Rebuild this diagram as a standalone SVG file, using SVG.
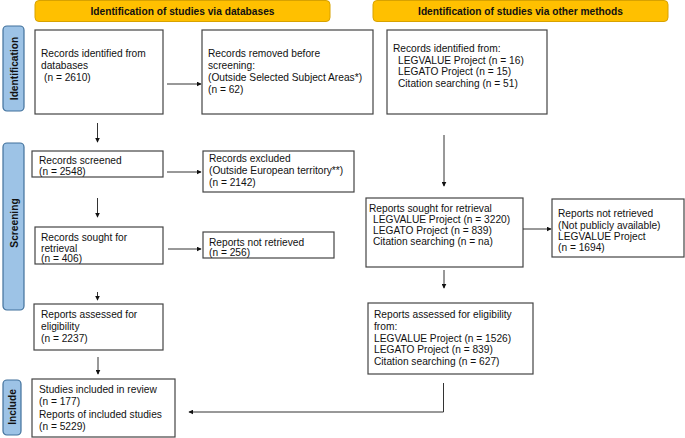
<svg xmlns="http://www.w3.org/2000/svg" width="685" height="438" viewBox="0 0 685 438">
<style>
text{font-family:"Liberation Sans",Arial,sans-serif;font-size:10.2px;fill:#111}
.h{font-weight:bold;text-anchor:middle}
.box{fill:#fff;stroke:#444;stroke-width:1.2}
.hdr{fill:#FFC000;stroke:#D8A200;stroke-width:1}
.side{fill:#9DC3E6;stroke:#41719C;stroke-width:1.2}
.ln{fill:none;stroke:#333;stroke-width:1}
</style>
<defs>
<marker id="ah" viewBox="0 0 8 8" refX="7" refY="4" markerWidth="5" markerHeight="5" orient="auto" markerUnits="userSpaceOnUse">
<path d="M0,0 L8,4 L0,8 Z" fill="#111"/>
</marker>
</defs>

<g id="hdr-db"><rect class="hdr" x="35" y="0.5" width="295" height="21" rx="4"/><text class="h" x="182.5" y="14.5">Identification of studies via databases</text></g>
<g id="hdr-other"><rect class="hdr" x="373" y="0.5" width="295" height="21" rx="4"/><text class="h" x="520.5" y="14.5">Identification of studies via other methods</text></g>

<g id="side-identification"><rect class="side" x="3" y="26" width="21" height="85" rx="4"/><text class="h" transform="translate(17.5,68.5) rotate(-90)">Identification</text></g>
<g id="side-screening"><rect class="side" x="3" y="143" width="21" height="167" rx="4"/><text class="h" transform="translate(17.5,223) rotate(-90)">Screening</text></g>
<g id="side-include"><rect class="side" x="3" y="380" width="18" height="55" rx="4"/><text class="h" transform="translate(16,407) rotate(-90)">Include</text></g>

<g id="n-identified-db"><rect class="box" x="35" y="30" width="128" height="84"/>
<text x="41" y="57">Records identified from</text><text x="41" y="69">databases</text><text x="44" y="81">(n = 2610)</text></g>
<g id="n-removed"><rect class="box" x="202" y="30" width="171" height="84"/>
<text x="208" y="57">Records removed before</text><text x="208" y="69">screening:</text><text x="208" y="81">(Outside Selected Subject Areas*)</text><text x="208" y="93">(n = 62)</text></g>
<g id="n-identified-other"><rect class="box" x="387" y="30" width="160" height="84"/>
<text x="393" y="52">Records identified from:</text><text x="398" y="63.5">LEGVALUE Project (n = 16)</text><text x="398" y="75">LEGATO Project (n = 15)</text><text x="398" y="86.5">Citation searching (n = 51)</text></g>

<g id="n-screened"><rect class="box" x="32" y="151" width="131" height="26"/>
<text x="39" y="164">Records screened</text><text x="39" y="175">(n = 2548)</text></g>
<g id="n-excluded"><rect class="box" x="203" y="151" width="151" height="41"/>
<text x="209" y="162">Records excluded</text><text x="209" y="174">(Outside European territory**)</text><text x="209" y="186">(n = 2142)</text></g>

<g id="n-sought-db"><rect class="box" x="35" y="227" width="128" height="37"/>
<text x="41" y="241">Records sought for</text><text x="41" y="251.5">retrieval</text><text x="41" y="262">(n = 406)</text></g>
<g id="n-notretrieved-db"><rect class="box" x="203" y="232" width="131" height="26"/>
<text x="209" y="246">Reports not retrieved</text><text x="209" y="256">(n = 256)</text></g>

<g id="n-sought-other"><rect class="box" x="366" y="198" width="157" height="69"/>
<text x="369" y="211.5">Reports sought for retrieval</text><text x="373" y="223">LEGVALUE Project (n = 3220)</text><text x="373" y="234">LEGATO Project (n = 839)</text><text x="373" y="245">Citation searching (n = na)</text></g>
<g id="n-notretrieved-other"><rect class="box" x="552" y="199" width="132" height="58"/>
<text x="558" y="217">Reports not retrieved</text><text x="558" y="228.5">(Not publicly available)</text><text x="558" y="240">LEGVALUE Project</text><text x="558" y="251">(n = 1694)</text></g>

<g id="n-assessed-db"><rect class="box" x="34" y="304" width="129" height="46"/>
<text x="41" y="318">Reports assessed for</text><text x="41" y="329.5">eligibility</text><text x="41" y="341.5">(n = 2237)</text></g>
<g id="n-assessed-other"><rect class="box" x="368" y="303" width="165" height="71"/>
<text x="374" y="318">Reports assessed for eligibility</text><text x="374" y="329.5">from:</text><text x="374" y="341.5">LEGVALUE Project (n = 1526)</text><text x="374" y="353">LEGATO Project (n = 839)</text><text x="374" y="364.5">Citation searching (n = 627)</text></g>

<g id="n-included"><rect class="box" x="32" y="379" width="143" height="58"/>
<text x="39" y="393">Studies included in review</text><text x="39" y="405">(n = 177)</text><text x="39" y="417.5">Reports of included studies</text><text x="39" y="430">(n = 5229)</text></g>

<g id="connectors">
<line class="ln" x1="167" y1="84" x2="201" y2="84" marker-end="url(#ah)"/>
<line class="ln" x1="97.5" y1="123" x2="97.5" y2="142" marker-end="url(#ah)"/>
<line class="ln" x1="167" y1="172" x2="201" y2="172" marker-end="url(#ah)"/>
<line class="ln" x1="97.5" y1="198" x2="97.5" y2="217" marker-end="url(#ah)"/>
<line class="ln" x1="168" y1="249" x2="201" y2="249" marker-end="url(#ah)"/>
<line class="ln" x1="97.5" y1="292" x2="97.5" y2="300" marker-end="url(#ah)"/>
<line class="ln" x1="98" y1="357" x2="98" y2="374" marker-end="url(#ah)"/>
<line class="ln" x1="444" y1="135" x2="444" y2="186" marker-end="url(#ah)"/>
<line class="ln" x1="523" y1="229" x2="551" y2="229" marker-end="url(#ah)"/>
<line class="ln" x1="444" y1="270" x2="444" y2="288" marker-end="url(#ah)"/>
<polyline class="ln" points="443.5,383 443.5,412 189,412" marker-end="url(#ah)"/>
</g>
</svg>
